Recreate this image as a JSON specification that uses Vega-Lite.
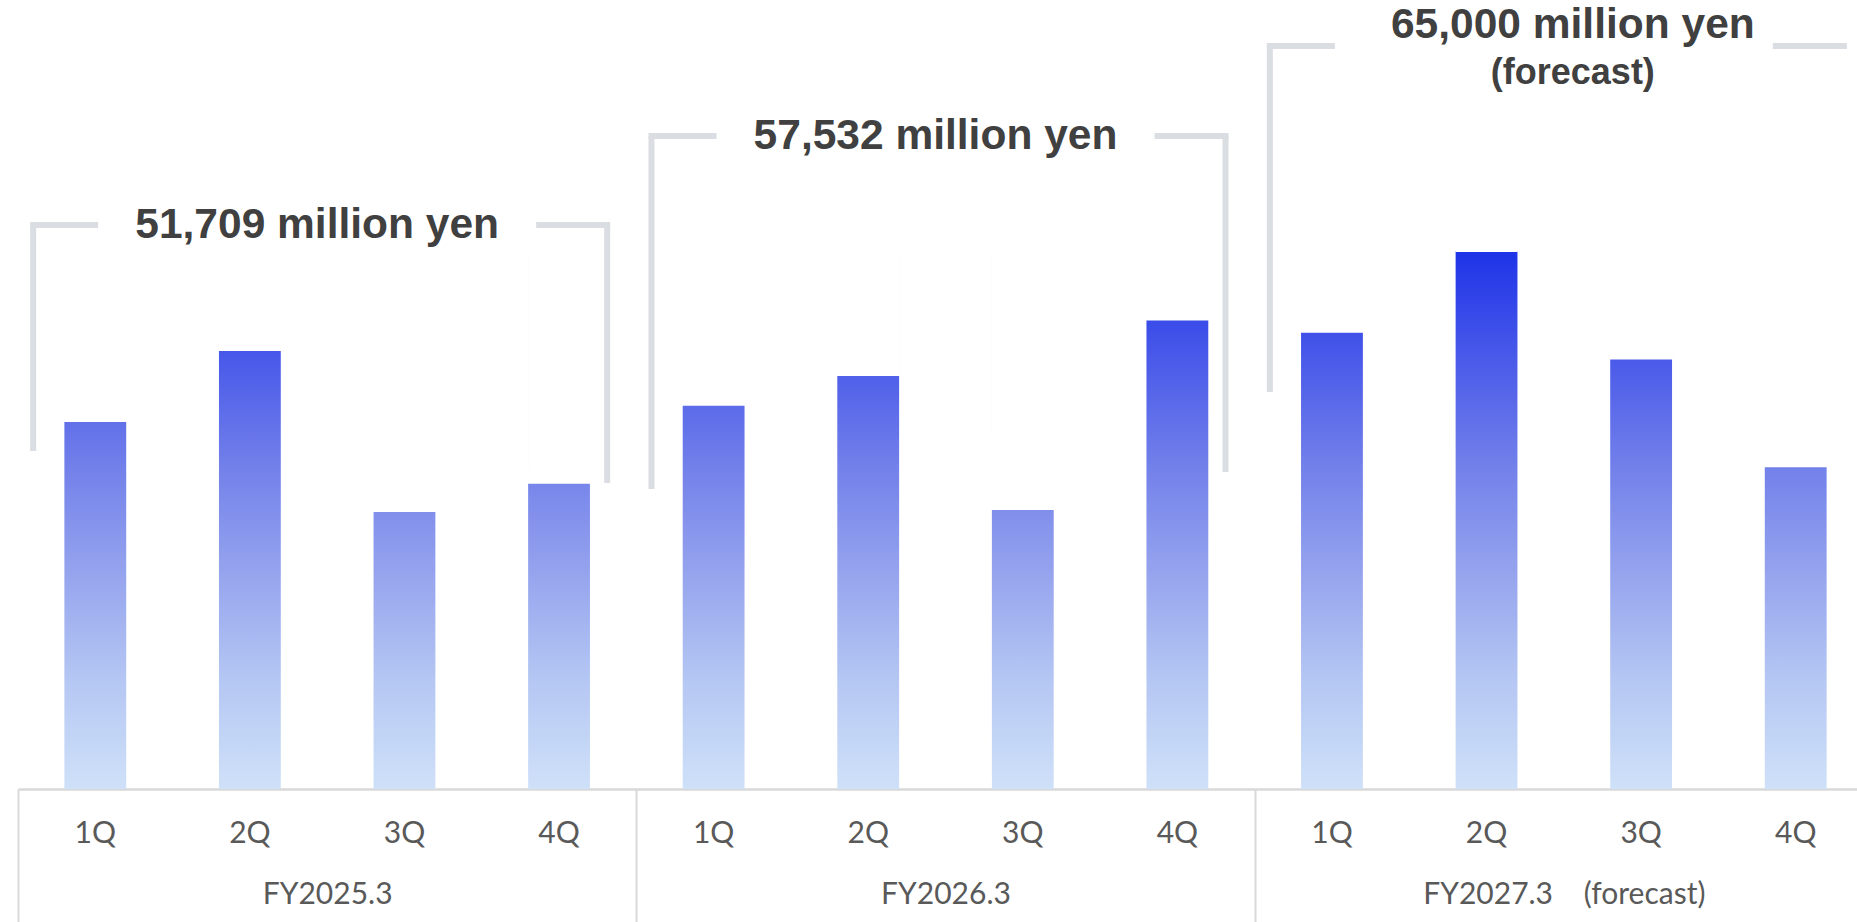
{
  "$schema": "https://vega.github.io/schema/vega-lite/v6.json",
  "width": 1839,
  "height": 789,
  "autosize": {"type": "none"},
  "padding": {"left": 18, "top": 0, "right": 0, "bottom": 133},
  "background": "white",
  "config": {"view": {"stroke": null}},
  "datasets": {
    "bars": [
      {"fy": "FY2025.3", "q": "1Q", "key": "FY2025.3|1Q", "value": 13675},
      {"fy": "FY2025.3", "q": "2Q", "key": "FY2025.3|2Q", "value": 16320},
      {"fy": "FY2025.3", "q": "3Q", "key": "FY2025.3|3Q", "value": 10330},
      {"fy": "FY2025.3", "q": "4Q", "key": "FY2025.3|4Q", "value": 11384},
      {"fy": "FY2026.3", "q": "1Q", "key": "FY2026.3|1Q", "value": 14285},
      {"fy": "FY2026.3", "q": "2Q", "key": "FY2026.3|2Q", "value": 15386},
      {"fy": "FY2026.3", "q": "3Q", "key": "FY2026.3|3Q", "value": 10408},
      {"fy": "FY2026.3", "q": "4Q", "key": "FY2026.3|4Q", "value": 17453},
      {"fy": "FY2027.3", "q": "1Q", "key": "FY2027.3|1Q", "value": 17000},
      {"fy": "FY2027.3", "q": "2Q", "key": "FY2027.3|2Q", "value": 20000},
      {"fy": "FY2027.3", "q": "3Q", "key": "FY2027.3|3Q", "value": 16000},
      {"fy": "FY2027.3", "q": "4Q", "key": "FY2027.3|4Q", "value": 12000}
    ],
    "brackets": [
      {"fy": "FY2025.3", "label": "51,709 million yen", "note": null, "top": 20978, "leftEnd": 12572, "rightEnd": 11382},
      {"fy": "FY2026.3", "label": "57,532 million yen", "note": null, "top": 24288, "leftEnd": 11159, "rightEnd": 11791},
      {"fy": "FY2027.3", "label": "65,000 million yen", "note": "(forecast)", "top": 27636, "leftEnd": 14766, "rightEnd": null}
    ]
  },
  "layer": [
    {
      "data": {"name": "bars"},
      "layer": [
        {
          "mark": {
            "type": "bar",
            "width": {"band": 0.4},
            "fill": {
              "gradient": "linear",
              "x1": 0, "y1": 1, "x2": 0, "y2": 0,
              "stops": [
                {"offset": 0, "color": "#cfe1f8"},
                {"offset": 0.2, "color": "#b5c7f3"},
                {"offset": 0.4, "color": "#96a4ee"},
                {"offset": 0.6, "color": "#7280ea"},
                {"offset": 0.8, "color": "#4a5ae9"},
                {"offset": 1, "color": "#1e33e8"}
              ]
            }
          },
          "encoding": {
            "x": {
              "field": "key", "type": "nominal", "title": null,
              "scale": {"range": [0, 1855], "paddingInner": 0, "paddingOuter": 0},
              "axis": {
                "orient": "bottom", "title": null, "domain": false, "ticks": false, "tickSize": 0,
                "grid": false, "labelAngle": 0, "labelExpr": "split(datum.value, '|')[1]",
                "labelFont": "Lato", "labelFontSize": 30, "labelColor": "#595959",
                "labelBaseline": "middle", "labelPadding": 44, "offset": 0
              }
            },
            "y": {"datum": 20000, "type": "quantitative", "scale": {"domain": [0, 29347], "nice": false, "zero": false}, "axis": null},
            "y2": {"datum": 0}
          }
        },
        {
          "mark": {"type": "bar", "width": {"band": 0.4}, "fill": "white", "stroke": "white", "strokeWidth": 1.5},
          "encoding": {
            "x": {"field": "key", "type": "nominal", "title": null},
            "y": {"field": "value", "type": "quantitative", "axis": null},
            "y2": {"datum": 20000}
          }
        }
      ]
    },
    {
      "data": {"name": "brackets"},
      "layer": [
        {
          "mark": {"type": "rule", "xOffset": -294, "strokeWidth": 6, "color": "#dadde2"},
          "encoding": {
            "x": {
              "field": "fy", "type": "nominal", "title": null,
              "scale": {"range": [0, 1855], "paddingInner": 0, "paddingOuter": 0},
              "axis": {
                "orient": "bottom", "title": null, "domain": true, "domainColor": "#d9d9d9", "domainWidth": 2.5,
                "ticks": true, "tickBand": "extent", "tickColor": "#d9d9d9", "tickWidth": 2, "tickSize": 140,
                "grid": false, "labelAngle": 0, "labelLimit": 0,
                "labelExpr": "datum.value == 'FY2027.3' ? '\u00a0\u00a0\u00a0\u00a0\u00a0FY2027.3\u00a0\u00a0\u00a0\u00a0(forecast)' : datum.value",
                "labelFont": "Lato", "labelFontSize": 30, "labelColor": "#595959",
                "labelBaseline": "middle", "labelPadding": -35, "offset": 0
              }
            },
            "y": {"field": "top", "type": "quantitative", "axis": null},
            "y2": {"field": "leftEnd"}
          }
        },
        {
          "transform": [{"filter": "datum.rightEnd != null"}],
          "mark": {"type": "rule", "xOffset": 280, "strokeWidth": 6, "color": "#dadde2"},
          "encoding": {
            "x": {"field": "fy", "type": "nominal", "title": null},
            "y": {"field": "top", "type": "quantitative", "axis": null},
            "y2": {"field": "rightEnd"}
          }
        },
        {
          "mark": {"type": "rule", "xOffset": -294, "x2Offset": -232, "strokeWidth": 6, "strokeCap": "square", "color": "#dadde2"},
          "encoding": {
            "x": {"field": "fy", "type": "nominal", "title": null},
            "x2": {"field": "fy"},
            "y": {"field": "top", "type": "quantitative", "axis": null}
          }
        },
        {
          "mark": {"type": "rule", "xOffset": 212, "x2Offset": 280, "strokeWidth": 6, "strokeCap": "square", "color": "#dadde2"},
          "encoding": {
            "x": {"field": "fy", "type": "nominal", "title": null},
            "x2": {"field": "fy"},
            "y": {"field": "top", "type": "quantitative", "axis": null}
          }
        },
        {
          "transform": [{"filter": "datum.note == null"}],
          "mark": {"type": "text", "font": "Liberation Sans", "fontWeight": "bold", "fontSize": 42.5, "color": "#404040", "align": "center", "baseline": "middle", "dx": -10},
          "encoding": {
            "x": {"field": "fy", "type": "nominal", "title": null},
            "y": {"field": "top", "type": "quantitative", "axis": null},
            "text": {"field": "label"}
          }
        },
        {
          "transform": [{"filter": "datum.note != null"}],
          "mark": {"type": "text", "font": "Liberation Sans", "fontWeight": "bold", "fontSize": 42.5, "color": "#404040", "align": "center", "baseline": "middle", "dx": 9, "dy": -21},
          "encoding": {
            "x": {"field": "fy", "type": "nominal", "title": null},
            "y": {"field": "top", "type": "quantitative", "axis": null},
            "text": {"field": "label"}
          }
        },
        {
          "transform": [{"filter": "datum.note != null"}],
          "mark": {"type": "text", "font": "Liberation Sans", "fontWeight": "bold", "fontSize": 36, "color": "#404040", "align": "center", "baseline": "middle", "dx": 9, "dy": 27},
          "encoding": {
            "x": {"field": "fy", "type": "nominal", "title": null},
            "y": {"field": "top", "type": "quantitative", "axis": null},
            "text": {"field": "note"}
          }
        }
      ]
    }
  ],
  "resolve": {"scale": {"x": "independent"}, "axis": {"x": "independent"}}
}
